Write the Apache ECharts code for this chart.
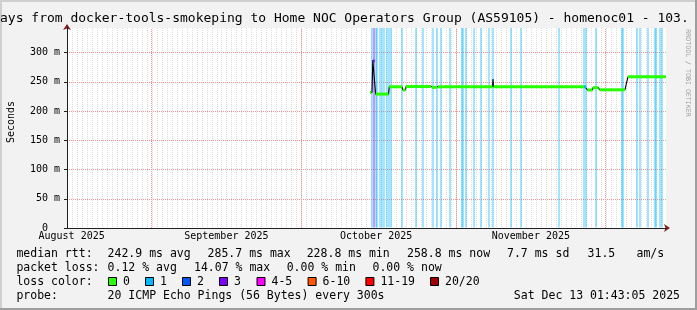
<!DOCTYPE html>
<html><head><meta charset="utf-8">
<script src="https://cdn.jsdelivr.net/npm/echarts@6/dist/echarts.min.js"></script>
<style>html,body{margin:0;padding:0;background:#f2f2f2}#c{width:697px;height:310px}</style>
</head><body><div id="c"></div>
<script>
// ---------------- data ----------------
const graphStart = '2025-08-15T01:43:05Z';   // last 120 days
const graphEnd   = '2025-12-13T01:43:05Z';
const monthStarts = ['2025-09-01T00:00Z', '2025-10-01T00:00Z', '2025-11-01T00:00Z', '2025-12-01T00:00Z'];
// rrdtool centres each month label half a month after the month start
const monthLabelAt = ['2025-08-16T00:00Z', '2025-09-16T00:00Z', '2025-10-16T00:00Z', '2025-11-16T00:00Z'];
const monthLabels = ['August 2025', 'September 2025', 'October 2025', 'November 2025'];
const dayMs = 86400000;

const yMaxMs = 342;
const yLabelMs = [0, 50, 100, 150, 200, 250, 300];
const yMajorStepMs = 50;
const yMinorStepMs = 10;

// median rtt runs: [start, end, medianMs, lossColorIndex]
const medianRuns = [
  ['2025-10-14T18:30Z', '2025-10-15T01:45Z', 232, 0],
  ['2025-10-15T09:00Z', '2025-10-15T17:10Z', 285.7, 3],
  ['2025-10-15T21:30Z', '2025-10-18T11:30Z', 229, 0],
  ['2025-10-18T15:20Z', '2025-10-21T04:25Z', 241.5, 0],
  ['2025-10-21T08:15Z', '2025-10-21T21:15Z', 236, 0],
  ['2025-10-21T23:40Z', '2025-10-26T23:50Z', 242, 0],
  ['2025-10-27T04:40Z', '2025-10-28T04:40Z', 240.5, 0],
  ['2025-10-28T09:30Z', '2025-11-08T07:30Z', 241.5, 0],
  ['2025-11-08T12:20Z', '2025-11-26T15:30Z', 241.5, 0],
  ['2025-11-26T15:30Z', '2025-11-27T01:05Z', 241.5, 1],
  ['2025-11-27T08:20Z', '2025-11-28T08:20Z', 236, 0],
  ['2025-11-28T10:45Z', '2025-11-29T13:10Z', 240, 0],
  ['2025-11-29T18:00Z', '2025-12-04T20:35Z', 236.3, 0],
  ['2025-12-05T11:00Z', '2025-12-13T00:15Z', 258.8, 0]
];

// smoke (ping spread) outline
const smokeTimes = ['2025-10-14T18:30Z', '2025-10-15T04:10Z', '2025-10-15T08:00Z', '2025-10-15T11:50Z', '2025-10-15T16:40Z',
  '2025-10-15T21:30Z', '2025-10-18T11:30Z', '2025-10-18T15:20Z', '2025-10-21T04:25Z', '2025-10-21T08:15Z',
  '2025-10-21T21:15Z', '2025-10-21T23:40Z', '2025-11-08T07:30Z', '2025-11-08T09:55Z', '2025-11-08T12:20Z',
  '2025-11-26T20:15Z', '2025-11-27T03:30Z', '2025-11-27T08:20Z', '2025-11-28T08:20Z', '2025-11-28T10:45Z',
  '2025-11-29T13:10Z', '2025-11-29T18:00Z', '2025-12-04T20:35Z', '2025-12-05T03:50Z', '2025-12-05T11:00Z',
  '2025-12-13T00:15Z'];
const smokeMs = [232, 232, 287, 287, 250, 229, 229, 241.5, 241.5, 236, 236, 242, 241.5, 254.6, 241.5,
  241.5, 241.5, 236, 236, 240, 240, 236.3, 236.3, 248, 258.5, 258.5];

// loss background (1/20 lost and 3/20 lost)
const loss1Times = ['2025-10-15T04:10Z', '2025-10-15T21:00Z', '2025-10-16T06:35Z', '2025-10-16T16:15Z', '2025-10-17T04:15Z',
  '2025-10-17T13:50Z', '2025-10-18T01:55Z', '2025-10-18T13:55Z', '2025-10-18T23:30Z', '2025-10-21T05:50Z',
  '2025-10-24T01:10Z', '2025-10-25T09:25Z', '2025-10-27T11:50Z', '2025-10-28T07:05Z', '2025-10-28T23:55Z',
  '2025-10-30T19:10Z', '2025-11-02T02:30Z', '2025-11-02T12:05Z', '2025-11-02T21:45Z', '2025-11-04T14:35Z',
  '2025-11-05T21:50Z', '2025-11-07T14:45Z', '2025-11-08T11:25Z', '2025-11-12T00:30Z', '2025-11-14T00:35Z',
  '2025-11-21T16:40Z', '2025-11-26T16:25Z', '2025-11-26T23:10Z', '2025-11-29T01:10Z', '2025-12-04T04:45Z',
  '2025-12-04T12:55Z', '2025-12-07T06:15Z', '2025-12-07T22:40Z', '2025-12-09T11:10Z', '2025-12-10T19:25Z',
  '2025-12-11T03:35Z', '2025-12-11T20:55Z', '2025-12-12T05:05Z'];
const loss3Times = ['2025-10-15T15:15Z'];

const lossLabels = ['0', '1', '2', '3', '4-5', '6-10', '11-19', '20/20'];
const lossColors = ['#26ff00', '#00b8ff', '#0059ff', '#7e00ff', '#ff00ff', '#ff5500', '#ff0000', '#a10000'];
const lossBgColors = {1: 'rgba(0,184,255,0.36)', 3: 'rgba(126,0,255,0.42)'};

const titleText = 'ays from docker-tools-smokeping to Home NOC Operators Group (AS59105) - homenoc01 - 103.';
const rttLegend = ['median rtt:', '242.9 ms avg', '285.7 ms max', '228.8 ms min', '258.8 ms now', '7.7 ms sd', '31.5', 'am/s'];
const lossLegend = ['packet loss:', '0.12 % avg', '14.07 % max', '0.00 % min', '0.00 % now'];
const probeLegend = ['probe:', '20 ICMP Echo Pings (56 Bytes) every 300s'];
const dateText = 'Sat Dec 13 01:43:05 2025';

// ---------------- layout ----------------
const rttX = [16.4, 107.6, 207.6, 306.7, 407, 507, 587.6, 636.5];
const lossX = [16.4, 107.6, 194, 286.7, 372.5];
const boxX = [108, 145, 182, 219, 256.5, 307.6, 365.4, 430];
const rowY = [254, 268, 282, 296];

const T = s => Date.parse(s);
const tMin = T(graphStart), tMax = T(graphEnd);
const labelTs = monthLabelAt.map(T);

const chart = echarts.init(document.getElementById('c'), null, {renderer: 'canvas', width: 697, height: 310});

const gridLine = {color: 'rgba(143,143,143,0.32)', type: [1, 1], width: 1};
const majorLine = {color: 'rgb(240,150,150)', type: [1, 1], width: 1, opacity: 1};

function lineAxis(isX, color, withArrow, z) {
  const a = {
    type: 'value', min: isX ? tMin : 0, max: isX ? tMax : yMaxMs, z: z,
    position: isX ? 'bottom' : 'left',
    axisLine: {show: true, onZero: false, lineStyle: {color: color, width: 1}},
    axisTick: {show: false}, axisLabel: {show: false}, splitLine: {show: false}
  };
  if (withArrow) {
    a.axisLine.symbol = ['none', 'arrow'];
    a.axisLine.symbolSize = [6, 6];
    a.axisLine.symbolOffset = [0, 4];
  }
  return a;
}

function txt(x, y, s, size, extra) {
  return Object.assign({
    type: 'text', x: x, y: y, silent: true, z: 10,
    style: Object.assign({text: s, fontFamily: 'DejaVu Sans Mono', fontSize: size, fill: '#000',
      textAlign: 'left', align: 'left', textVerticalAlign: 'middle', verticalAlign: 'middle'}, (extra && extra.style) || {})
  }, extra && extra.el || {});
}

const graphics = [
  {type: 'rect', shape: {x: 0, y: 0, width: 697, height: 2}, style: {fill: '#cfcfcf'}, silent: true},
  {type: 'rect', shape: {x: 0, y: 0, width: 2, height: 310}, style: {fill: '#cfcfcf'}, silent: true},
  {type: 'rect', shape: {x: 0, y: 308, width: 697, height: 2}, style: {fill: '#9e9e9e'}, silent: true},
  {type: 'rect', shape: {x: 695, y: 0, width: 2, height: 310}, style: {fill: '#9e9e9e'}, silent: true},
  txt(0, 19, titleText, 13),
  txt(11, 122, 'Seconds', 10, {el: {rotation: Math.PI / 2}, style: {textAlign: 'center', align: 'center'}}),
  txt(688, 73, 'RRDTOOL / TOBI OETIKER', 6.6, {el: {rotation: -Math.PI / 2}, style: {textAlign: 'center', align: 'center', fill: '#a0a0a0'}})
];
rttLegend.forEach((s, i) => graphics.push(txt(rttX[i], rowY[0], s, 11.5)));
lossLegend.forEach((s, i) => graphics.push(txt(lossX[i], rowY[1], s, 11.5)));
graphics.push(txt(16.4, rowY[2], 'loss color:', 11.5));
lossLabels.forEach((s, i) => {
  graphics.push({type: 'rect', silent: true, z: 10, shape: {x: boxX[i] + 0.5, y: rowY[2] - 4.5, width: 8, height: 8},
    style: {fill: lossColors[i], stroke: '#000', lineWidth: 1}});
  graphics.push(txt(boxX[i] + 15, rowY[2], s, 11.5));
});
graphics.push(txt(16.4, rowY[3], probeLegend[0], 11.5));
graphics.push(txt(107.6, rowY[3], probeLegend[1], 11.5));
graphics.push(txt(680, rowY[3], dateText, 11.5, {style: {textAlign: 'right', align: 'right'}}));

const lossBgData = loss1Times.map(t => [T(t), 1]).concat(loss3Times.map(t => [T(t), 3]));
const runData = medianRuns.map(r => [T(r[0]), T(r[1]), r[2], r[3]]);

const option = {
  animation: false,
  backgroundColor: '#f2f2f2',
  grid: {left: 67, right: 31, top: 28, bottom: 82, show: true, backgroundColor: '#ffffff', borderWidth: 0},
  xAxis: [
    {
      // daily minor grid; min lies 1.7 h after midnight (0.36 px), ticks follow the interval
      type: 'value', min: tMin, max: tMax, interval: dayMs, z: 0, position: 'bottom',
      axisLine: {show: false}, axisTick: {show: false},
      axisLabel: {customValues: labelTs, formatter: v => {
        const i = labelTs.indexOf(+v); return i >= 0 ? monthLabels[i] : '';
      }, fontFamily: 'DejaVu Sans Mono', fontSize: 10, color: '#000', margin: 3, hideOverlap: false},
      splitLine: {show: true, showMinLine: false, showMaxLine: false, lineStyle: gridLine}
    },
    lineAxis(true, '#7f1f1f', true, 5),
    lineAxis(true, '#1f1f1f', false, 6)
  ],
  yAxis: [
    {
      type: 'value', min: 0, max: yMaxMs, interval: yMinorStepMs, z: 0, position: 'left',
      axisLine: {show: false},
      axisTick: {show: true, customValues: yLabelMs, length: 3, lineStyle: {color: '#1f1f1f'}},
      axisLabel: {customValues: yLabelMs, formatter: v => v === 0 ? '0  ' : v + ' m',
        fontFamily: 'DejaVu Sans Mono', fontSize: 10, color: '#000', margin: 7},
      splitLine: {show: true, showMinLine: false, showMaxLine: false, lineStyle: gridLine}
    },
    lineAxis(false, '#7f1f1f', true, 5),
    lineAxis(false, '#1f1f1f', false, 6),
    {
      // major (red) horizontal grid every 50 ms
      type: 'value', min: 0, max: yMaxMs, interval: yMajorStepMs, z: 1, position: 'left',
      axisLine: {show: false}, axisTick: {show: false}, axisLabel: {show: false},
      splitLine: {show: true, showMinLine: false, showMaxLine: false, lineStyle: majorLine}
    }
  ],
  series: [
    {
      type: 'line', name: 'major grid', xAxisIndex: 0, yAxisIndex: 0, z: 1, silent: true, data: [],
      markLine: {
        silent: true, z: 1, symbol: ['none', 'none'], label: {show: false}, lineStyle: majorLine,
        emphasis: {disabled: true},
        data: monthStarts.map(t => ({xAxis: T(t), lineStyle: majorLine}))
      }
    },
    {
      type: 'custom', name: 'loss background', xAxisIndex: 0, yAxisIndex: 0, z: 2, silent: true,
      data: lossBgData, encode: {x: 0},
      renderItem: (params, api) => {
        const t = api.value(0);
        const top = api.coord([t, yMaxMs]);
        const bot = api.coord([t, 0]);
        const x = Math.round(top[0]) - 1;
        return {type: 'rect', shape: {x: x, y: top[1], width: 2, height: bot[1] - top[1] - 0.5},
          style: {fill: lossBgColors[api.value(1)]}};
      }
    },
    {
      type: 'line', name: 'smoke', xAxisIndex: 0, yAxisIndex: 0, z: 3, silent: true,
      data: smokeTimes.map((t, i) => [T(t), smokeMs[i]]), symbol: 'none',
      lineStyle: {color: '#000', width: 1.1}, itemStyle: {color: '#000'}
    },
    {
      type: 'custom', name: 'median rtt', xAxisIndex: 0, yAxisIndex: 0, z: 4, silent: true,
      data: runData, encode: {x: [0, 1], y: 2},
      renderItem: (params, api) => {
        const a = api.coord([api.value(0), api.value(2)]);
        const b = api.coord([api.value(1), api.value(2)]);
        return {type: 'line', shape: {x1: a[0], y1: a[1], x2: b[0], y2: b[1]},
          style: {stroke: lossColors[api.value(3)], lineWidth: 3}};
      }
    }
  ],
  graphic: graphics
};
chart.setOption(option);
</script></body></html>
